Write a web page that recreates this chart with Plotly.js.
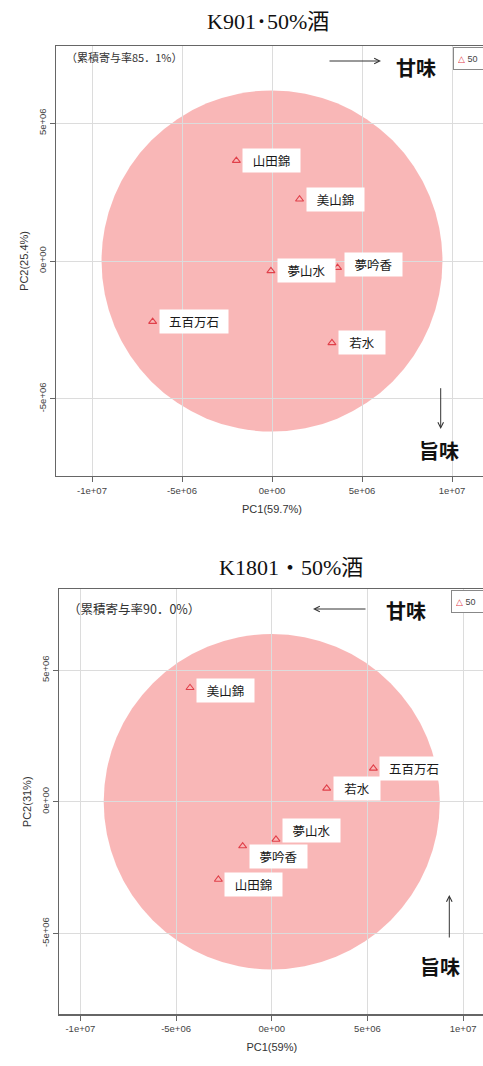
<!DOCTYPE html>
<html>
<head>
<meta charset="utf-8">
<script src="https://cdn.plot.ly/plotly-3.0.1.min.js"></script>
<style>
  html, body { margin: 0; padding: 0; overflow: hidden; background: #fff; }
  #chart { width: 495px; height: 1066px; }
</style>
</head>
<body>
<div id="chart"></div>
<script>
// Sake rice varieties scored on the first two principal components
const varieties = ['山田錦', '美山錦', '夢山水', '夢吟香', '五百万石', '若水'];

// K901 yeast, 50% polished sake
const k901PC1 = [-1.98e6, 1.53e6, -0.06e6, 3.64e6, -6.63e6, 3.33e6];
const k901PC2 = [3.64e6, 2.24e6, -0.36e6, -0.24e6, -2.20e6, -2.97e6];

// K1801 yeast, 50% polished sake
const k1801PC1 = [-2.79e6, -4.27e6, 0.22e6, -1.52e6, 5.31e6, 2.87e6];
const k1801PC2 = [-2.95e6, 4.33e6, -1.43e6, -1.68e6, 1.27e6, 0.51e6];

const groupName = '50';

const panelTitles = ['K901･50%酒', 'K1801・50%酒'];
const cumulativeNotes = ['（累積寄与率85．1%）', '（累積寄与率90．0%）'];
const pc1Titles = ['PC1(59.7%)', 'PC1(59%)'];
const pc2Titles = ['PC2(25.4%)', 'PC2(31%)'];

const xTickVals = [-1e7, -5e6, 0, 5e6, 1e7];
const xTickText = ['-1e+07', '-5e+06', '0e+00', '5e+06', '1e+07'];
const yTickVals = [-5e6, 0, 5e6];
const yTickText = ['-5e+06', '0e+00', '5e+06'];

// group region (ellipse half-widths in data units)
const k901Region = { rx: 9.47e6, ry: 6.19e6 };
const k1801Region = { rx: 8.78e6, ry: 6.37e6 };

// ---- page geometry helpers ----
const W = 495, H = 1066;
const px = v => v / W;
const py = v => 1 - v / H;

const markerColor = '#e0404a';
// translucent so the grid stays visible through the region
const regionColor = 'rgba(245,135,135,0.6)';
const cjk = '"Noto Sans CJK JP", "Noto Sans", sans-serif';
const sans = '"Liberation Sans", Arial, sans-serif';
const serif = '"Liberation Serif", "Times New Roman", "Noto Sans CJK JP", serif';

function axisCommon(extra) {
  return Object.assign({
    showgrid: true, gridcolor: '#dcdcdc', gridwidth: 1,
    zeroline: false, showline: true, linecolor: '#666', linewidth: 1.3, mirror: true,
    ticks: 'outside', ticklen: 5, tickcolor: '#666', tickwidth: 1,
    tickfont: { family: sans, size: 9.5, color: '#444' },
    automargin: false, fixedrange: true
  }, extra);
}

const traces = [
  {
    x: k901PC1, y: k901PC2, xaxis: 'x', yaxis: 'y', name: groupName,
    type: 'scatter', mode: 'markers', showlegend: false,
    marker: { symbol: 'triangle-up-open', size: 7, color: markerColor, line: { width: 1.1 } },
    hoverinfo: 'skip'
  },
  {
    x: k1801PC1, y: k1801PC2, xaxis: 'x2', yaxis: 'y2', name: groupName,
    type: 'scatter', mode: 'markers', showlegend: false,
    marker: { symbol: 'triangle-up-open', size: 7, color: markerColor, line: { width: 1.1 } },
    hoverinfo: 'skip'
  }
];

// label offsets (px, positive = up) so the boxes stay readable
const k901Shift = [0, 0, 0, 3, 0, 0];
const k1801Shift = [-5, -3, 9, -10, 0, 0];

const annotations = [];

function addPointLabels(xs, ys, xref, yref, shifts) {
  varieties.forEach((name, i) => {
    annotations.push({
      x: xs[i], y: ys[i], xref: xref, yref: yref,
      text: name, showarrow: false,
      xanchor: 'left', yanchor: 'middle', xshift: 6, yshift: shifts[i],
      bgcolor: '#ffffff', borderpad: 0,
      width: 11 * name.length + 24, height: 23, align: 'center',
      font: { family: cjk, size: 12.5, color: '#1a1a1a' }
    });
  });
}
addPointLabels(k901PC1, k901PC2, 'x', 'y', k901Shift);
addPointLabels(k1801PC1, k1801PC2, 'x2', 'y2', k1801Shift);

function paperText(text, x, y, size, opts) {
  annotations.push(Object.assign({
    text: text, x: px(x), y: py(y), xref: 'paper', yref: 'paper',
    showarrow: false, xanchor: 'center', yanchor: 'middle',
    font: { family: cjk, size: size, color: '#222' }
  }, opts || {}));
}

function arrow(headX, headY, tailX, tailY) {
  annotations.push({
    x: px(headX), y: py(headY), xref: 'paper', yref: 'paper',
    ax: tailX - headX, ay: tailY - headY, axref: 'pixel', ayref: 'pixel',
    text: '', showarrow: true, arrowhead: 5, arrowsize: 1.1, arrowwidth: 1,
    arrowcolor: '#333'
  });
}

// panel titles
paperText(panelTitles[0], 268, 21, 22, { font: { family: serif, size: 22, color: '#111' } });
paperText(panelTitles[1], 291, 567, 22, { font: { family: serif, size: 22, color: '#111' } });

// cumulative contribution notes
paperText(cumulativeNotes[0], 64, 57, 11, { xanchor: 'left', font: { family: cjk, size: 11, color: '#333' } });
paperText(cumulativeNotes[1], 66, 608, 12.5, { xanchor: 'left', font: { family: cjk, size: 12.5, color: '#333' } });

// taste direction arrows
arrow(381, 61, 328, 61);
paperText('甘味', 416, 67, 20, { font: { family: cjk, size: 20, color: '#111', weight: 'bold' } });
arrow(440.7, 429, 440.7, 386.7);
paperText('旨味', 438.5, 450, 20, { font: { family: cjk, size: 20, color: '#111', weight: 'bold' } });

arrow(313, 609, 367, 609);
paperText('甘味', 405.5, 610, 20, { font: { family: cjk, size: 20, color: '#111', weight: 'bold' } });
arrow(449.3, 895, 449.3, 939);
paperText('旨味', 440, 966.7, 20, { font: { family: cjk, size: 20, color: '#111', weight: 'bold' } });

// legend boxes
const legendText = '<span style="color:' + markerColor + '">△</span> ' + groupName;
[[453, 58.5], [451, 601]].forEach(([lx, ly]) => {
  annotations.push({
    text: legendText, x: px(lx), y: py(ly), xref: 'paper', yref: 'paper',
    showarrow: false, xanchor: 'left', yanchor: 'middle',
    bgcolor: '#fff', bordercolor: '#888', borderwidth: 1, borderpad: 4,
    width: 42, height: 13, align: 'left',
    font: { family: sans, size: 9, color: '#444' }
  });
});

const shapes = [
  {
    type: 'circle', xref: 'x', yref: 'y', layer: 'below',
    x0: -k901Region.rx, x1: k901Region.rx, y0: -k901Region.ry, y1: k901Region.ry,
    fillcolor: regionColor, line: { width: 0 }
  },
  {
    type: 'circle', xref: 'x2', yref: 'y2', layer: 'below',
    x0: -k1801Region.rx, x1: k1801Region.rx, y0: -k1801Region.ry, y1: k1801Region.ry,
    fillcolor: regionColor, line: { width: 0 }
  }
];

const titleFont = { family: sans, size: 11, color: '#333' };

const layout = {
  width: W, height: H,
  margin: { l: 0, r: 0, t: 0, b: 0 },
  paper_bgcolor: '#fff', plot_bgcolor: '#fff',
  showlegend: false,
  xaxis: axisCommon({
    domain: [px(56), px(488)], range: [-1.2e7, 1.2e7], anchor: 'y',
    tickvals: xTickVals, ticktext: xTickText,
    title: { text: pc1Titles[0], font: titleFont, standoff: 10 }
  }),
  yaxis: axisCommon({
    domain: [py(476), py(46)], range: [-7.8e6, 7.8e6], anchor: 'x',
    tickvals: yTickVals, ticktext: yTickText, tickangle: -90,
    title: { text: pc2Titles[0], font: titleFont, standoff: 6 }
  }),
  xaxis2: axisCommon({
    domain: [px(59.3), px(484.2)], range: [-1.11e7, 1.11e7], anchor: 'y2',
    tickvals: xTickVals, ticktext: xTickText,
    title: { text: pc1Titles[1], font: titleFont, standoff: 10 }
  }),
  yaxis2: axisCommon({
    domain: [py(1014.3), py(589.3)], range: [-8.07e6, 8.07e6], anchor: 'x2',
    tickvals: yTickVals, ticktext: yTickText, tickangle: -90,
    title: { text: pc2Titles[1], font: titleFont, standoff: 6 }
  }),
  shapes: shapes,
  annotations: annotations
};

Plotly.newPlot('chart', traces, layout, { staticPlot: true, displayModeBar: false });
</script>
</body>
</html>
